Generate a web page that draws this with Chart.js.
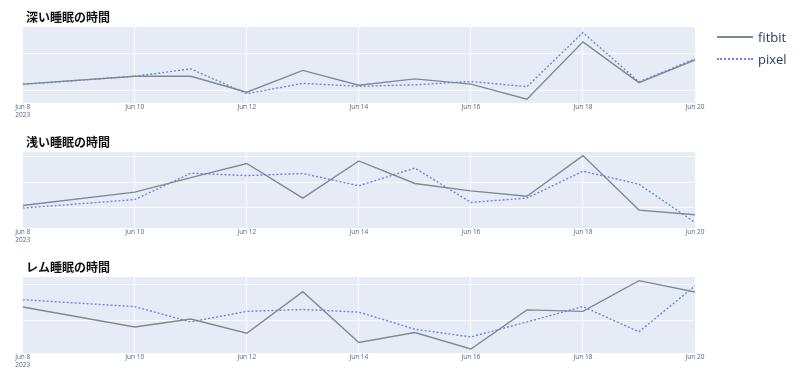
<!DOCTYPE html>
<html>
<head>
<meta charset="utf-8">
<script src="https://cdn.jsdelivr.net/npm/chart.js@4/dist/chart.umd.min.js"></script>
<style>
  html, body { margin: 0; padding: 0; background: #fff; }
  body { width: 800px; height: 383px; position: relative; overflow: hidden; font-family: "Open Sans", "Noto Sans CJK JP", sans-serif; }
  .panel { position: absolute; left: 0; width: 800px; height: 125px; }
  #legend { position: absolute; left: 716px; top: 26px; font-family: "Open Sans", sans-serif; font-size: 13px; color: #2a3f5f; }
  .item { position: relative; height: 22px; line-height: 22px; }
  .swatch { position: absolute; left: 1px; top: 10px; width: 36px; height: 0; }
  .lbl { position: absolute; left: 42px; top: 0; }
</style>
</head>
<body>
<div class="panel" style="top:0"><canvas id="c1"></canvas></div>
<div class="panel" style="top:125px"><canvas id="c2"></canvas></div>
<div class="panel" style="top:250px"><canvas id="c3"></canvas></div>
<div id="legend">
  <div class="item"><div class="swatch" style="border-top:2.5px solid #7f8a8f"></div><span class="lbl">fitbit</span></div>
  <div class="item"><div class="swatch" style="border-top:2.5px dotted #6a85e6"></div><span class="lbl">pixel</span></div>
</div>
<script>
// Dates (June 2023)
const dates = ["2023-06-08","2023-06-10","2023-06-11","2023-06-12","2023-06-13","2023-06-14","2023-06-15","2023-06-16","2023-06-17","2023-06-18","2023-06-19","2023-06-20"];
const seriesNames = ["fitbit", "pixel"];
const titles = ["深い睡眠の時間", "浅い睡眠の時間", "レム睡眠の時間"];
const xTickDays = [8, 10, 12, 14, 16, 18, 20];

// Deep sleep
const deepFitbit = [1.17, 1.38, 1.38, 0.95, 1.54, 1.14, 1.31, 1.17, 0.76, 2.31, 1.21, 1.82];
const deepPixel  = [1.16, 1.38, 1.58, 0.91, 1.19, 1.11, 1.15, 1.24, 1.10, 2.56, 1.23, 1.85];
// Light sleep
const lightFitbit = [1.09, 1.61, 2.18, 2.73, 1.38, 2.83, 1.95, 1.66, 1.45, 3.04, 0.91, 0.73];
const lightPixel  = [0.99, 1.32, 2.35, 2.26, 2.34, 1.86, 2.55, 1.21, 1.38, 2.43, 1.92, 0.43];
// REM sleep
const remFitbit = [1.38, 0.83, 1.05, 0.66, 1.80, 0.41, 0.68, 0.23, 1.30, 1.26, 2.10, 1.79];
const remPixel  = [1.58, 1.39, 0.97, 1.26, 1.31, 1.24, 0.77, 0.56, 0.97, 1.39, 0.70, 1.96];

// y ranges (axis ranges)
const yRanges = [[0.66, 2.71], [0.21, 3.18], [0.12, 2.20]];

function dayOf(s) { return parseInt(s.slice(8, 10), 10); }
function pts(vals) { return dates.map((d, i) => ({ x: dayOf(d), y: vals[i] })); }

const bgPlugin = {
  id: 'plotbg',
  afterLayout(chart) {
    if (chart.titleBlock) { chart.titleBlock.left += 3.3; chart.titleBlock.right += 3.3; }
  },
  beforeDraw(chart) {
    const a = chart.chartArea, ctx = chart.ctx;
    ctx.save();
    ctx.fillStyle = '#E5ECF6';
    ctx.fillRect(a.left, a.top, a.right - a.left, a.bottom - a.top);
    ctx.restore();
  }
};

function makeChart(id, title, fit, pix, yr) {
  return new Chart(document.getElementById(id), {
    type: 'line',
    data: {
      datasets: [
        { label: seriesNames[0], data: pts(fit), borderColor: '#7f8a8f', borderWidth: 1.4, pointRadius: 0, tension: 0, fill: false },
        { label: seriesNames[1], data: pts(pix), borderColor: '#6a85e6', borderWidth: 1.4, borderDash: [2, 2], pointRadius: 0, tension: 0, fill: false }
      ]
    },
    options: {
      responsive: false,
      animation: false,
      layout: { padding: { left: 22.7, right: 105, top: 0, bottom: 0 } },
      plugins: {
        legend: { display: false },
        tooltip: { enabled: false },
        title: {
          display: true, text: title, align: 'start', color: '#111',
          font: { family: '"Noto Sans CJK JP", sans-serif', size: 12, weight: 'bold' },
          padding: { top: 10, bottom: 2.6 }
        }
      },
      scales: {
        x: {
          type: 'linear', min: 8, max: 20,
          afterFit(s) { s.height = 22; },
          afterBuildTicks(s) { s.ticks = xTickDays.map(v => ({ value: v })); },
          grid: { color: 'rgba(255,255,255,0.9)', lineWidth: 1, drawTicks: false },
          border: { display: false },
          ticks: {
            padding: 1, maxRotation: 0, autoSkip: false, color: '#506784',
            font: { family: '"Open Sans", sans-serif', size: 6.5, lineHeight: 1.1 },
            callback(v) { return v === 8 ? ['Jun ' + v, '2023'] : 'Jun ' + v; }
          }
        },
        y: {
          min: yr[0], max: yr[1],
          afterFit(s) { s.width = 0; },
          grid: { color: 'rgba(255,255,255,0.9)', lineWidth: 1, drawTicks: false },
          border: { display: false },
          ticks: { display: false, stepSize: 1, includeBounds: false }
        }
      }
    },
    plugins: [bgPlugin]
  });
}

['c1', 'c2', 'c3'].forEach(id => {
  const c = document.getElementById(id); c.width = 800; c.height = 125;
});
makeChart('c1', titles[0], deepFitbit, deepPixel, yRanges[0]);
makeChart('c2', titles[1], lightFitbit, lightPixel, yRanges[1]);
makeChart('c3', titles[2], remFitbit, remPixel, yRanges[2]);
</script>
</body>
</html>
